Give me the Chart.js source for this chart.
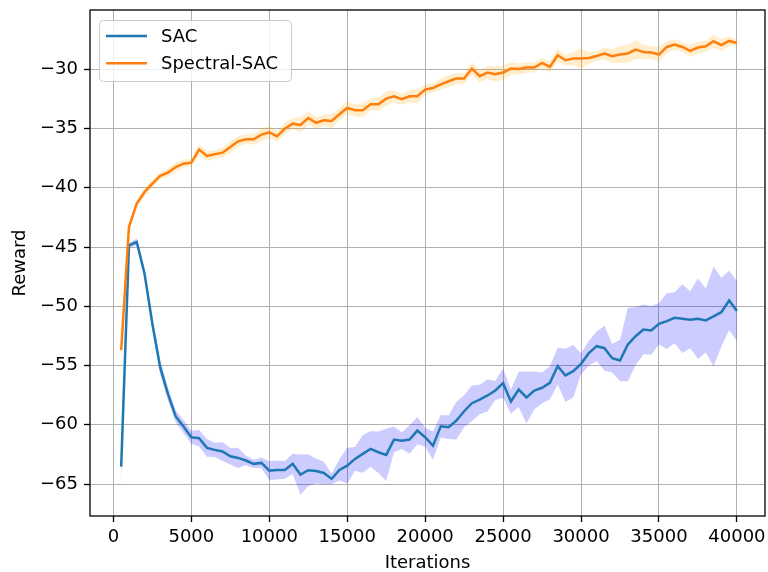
<!DOCTYPE html>
<html>
<head>
<meta charset="utf-8">
<script src="https://cdn.jsdelivr.net/npm/chart.js@4.4.0/dist/chart.umd.min.js"></script>
<style>
  html, body { margin: 0; padding: 0; background: #fff; }
  #wrap { width: 768px; height: 572px; }
</style>
</head>
<body>
<div id="wrap"><canvas id="chart" width="768" height="572"></canvas></div>
<script>
// values
const ITERATIONS = [
  500, 1000, 1500, 2000, 2500, 3000, 3500, 4000, 4500, 5000,
  5500, 6000, 6500, 7000, 7500, 8000, 8500, 9000, 9500, 10000,
  10500, 11000, 11500, 12000, 12500, 13000, 13500, 14000, 14500, 15000,
  15500, 16000, 16500, 17000, 17500, 18000, 18500, 19000, 19500, 20000,
  20500, 21000, 21500, 22000, 22500, 23000, 23500, 24000, 24500, 25000,
  25500, 26000, 26500, 27000, 27500, 28000, 28500, 29000, 29500, 30000,
  30500, 31000, 31500, 32000, 32500, 33000, 33500, 34000, 34500, 35000,
  35500, 36000, 36500, 37000, 37500, 38000, 38500, 39000, 39500, 40000
];
const SAC_MEAN = [
  -63.53, -44.86, -44.58, -47.26, -51.48, -55.14, -57.40, -59.30, -60.15, -61.06,
  -61.14, -61.95, -62.12, -62.26, -62.66, -62.80, -63.02, -63.30, -63.22, -63.87,
  -63.81, -63.81, -63.30, -64.20, -63.84, -63.90, -64.07, -64.57, -63.81, -63.45,
  -62.88, -62.46, -62.04, -62.32, -62.54, -61.25, -61.34, -61.25, -60.49, -61.05,
  -61.76, -60.13, -60.21, -59.65, -58.86, -58.18, -57.87, -57.53, -57.11, -56.49,
  -58.04, -57.03, -57.70, -57.11, -56.88, -56.46, -55.05, -55.84, -55.48, -54.86,
  -53.96, -53.37, -53.54, -54.38, -54.58, -53.23, -52.53, -51.96, -52.04, -51.48,
  -51.25, -50.97, -51.05, -51.14, -51.05, -51.20, -50.86, -50.50, -49.51, -50.41
];
const SAC_STD = [
  1.60, 0.20, 0.30, 0.40, 0.50, 0.60, 0.55, 0.50, 0.55, 0.55,
  0.70, 0.75, 0.60, 0.80, 0.70, 0.85, 0.40, 0.35, 0.45, 0.80,
  0.80, 0.75, 0.85, 1.70, 1.35, 1.05, 0.95, 0.45, 0.90, 1.50,
  1.00, 1.60, 1.50, 1.75, 2.20, 1.10, 0.70, 1.20, 1.15, 0.80,
  1.20, 0.95, 1.00, 1.60, 1.35, 1.50, 1.25, 1.35, 0.80, 1.25,
  1.00, 1.50, 2.20, 1.60, 1.30, 1.40, 1.55, 2.25, 2.20, 0.90,
  1.05, 1.25, 1.90, 1.20, 1.75, 3.10, 2.45, 2.10, 2.05, 1.75,
  2.35, 2.15, 2.90, 2.40, 3.40, 2.70, 4.20, 2.90, 2.50, 2.55
];
const SPEC_MEAN = [
  -53.70, -43.30, -41.34, -40.36, -39.65, -39.00, -38.73, -38.25, -37.97, -37.88,
  -36.78, -37.32, -37.18, -37.04, -36.56, -36.08, -35.91, -35.91, -35.52, -35.32,
  -35.66, -35.01, -34.59, -34.70, -34.11, -34.52, -34.31, -34.37, -33.80, -33.27,
  -33.46, -33.46, -32.96, -32.96, -32.48, -32.28, -32.53, -32.28, -32.28, -31.72,
  -31.58, -31.27, -31.01, -30.79, -30.79, -29.94, -30.59, -30.28, -30.42, -30.28,
  -29.94, -29.97, -29.86, -29.86, -29.47, -29.80, -28.82, -29.24, -29.10, -29.10,
  -29.05, -28.88, -28.67, -28.90, -28.76, -28.67, -28.34, -28.54, -28.59, -28.76,
  -28.12, -27.91, -28.12, -28.45, -28.17, -28.06, -27.64, -27.97, -27.61, -27.78
];
const SPEC_STD = [
  1.30, 0.30, 0.30, 0.35, 0.35, 0.30, 0.35, 0.40, 0.35, 0.30,
  0.45, 0.40, 0.35, 0.40, 0.50, 0.45, 0.40, 0.45, 0.55, 0.50,
  0.45, 0.50, 0.45, 0.65, 0.55, 0.50, 0.45, 0.60, 0.50, 0.55,
  0.50, 0.60, 0.50, 0.55, 0.60, 0.50, 0.45, 0.50, 0.60, 0.45,
  0.40, 0.45, 0.50, 0.50, 0.45, 0.55, 0.50, 0.55, 0.65, 0.60,
  0.55, 0.45, 0.45, 0.40, 0.45, 0.45, 0.55, 0.45, 0.55, 0.85,
  0.50, 0.40, 0.50, 0.60, 0.70, 0.75, 0.80, 0.60, 0.55, 0.65,
  0.50, 0.45, 0.40, 0.50, 0.50, 0.45, 0.55, 0.50, 0.40, 0.30
];
const X_TICKS = [0, 5000, 10000, 15000, 20000, 25000, 30000, 35000, 40000];
const Y_TICKS = [-65, -60, -55, -50, -45, -40, -35, -30];

const FONT = "'DejaVu Sans', 'Liberation Sans', sans-serif";

function toPoints(ys) { return ITERATIONS.map((x, i) => ({ x, y: ys[i] })); }
function bandEdge(mean, std, sign) {
  return ITERATIONS.map((x, i) => ({ x, y: mean[i] + sign * std[i] }));
}
function minusSign(v) { return String(v).replace("-", "\u2212"); }
function noPad(s) { s.paddingLeft = s.paddingRight = s.paddingTop = s.paddingBottom = 0; }

function line(label, ys, color, order) {
  return {
    label, data: toPoints(ys), borderColor: color, backgroundColor: color,
    borderWidth: 2.5, pointRadius: 0, fill: false, tension: 0, order, inLegend: true
  };
}
function edge(data, fill, bg) {
  return {
    data, borderWidth: 0, borderColor: "rgba(0,0,0,0)", backgroundColor: bg,
    pointRadius: 0, fill, tension: 0, order: 5
  };
}

// black box round the plot area
const frame = {
  id: "frame",
  afterDatasetsDraw(chart) {
    const { ctx, chartArea: a } = chart;
    ctx.save();
    ctx.strokeStyle = "#000";
    ctx.lineWidth = 1.3;
    ctx.strokeRect(a.left, a.top, a.right - a.left, a.bottom - a.top);
    ctx.restore();
  }
};

// matplotlib style legend in the upper left corner
const boxLegend = {
  id: "boxLegend",
  afterDraw(chart) {
    const ctx = chart.ctx;
    const items = chart.data.datasets.filter(d => d.inLegend);
    const x0 = 99.5, y0 = 20.5, w = 192, h = 61, r = 4;
    ctx.save();
    ctx.beginPath();
    ctx.moveTo(x0 + r, y0);
    ctx.arcTo(x0 + w, y0, x0 + w, y0 + h, r);
    ctx.arcTo(x0 + w, y0 + h, x0, y0 + h, r);
    ctx.arcTo(x0, y0 + h, x0, y0, r);
    ctx.arcTo(x0, y0, x0 + w, y0, r);
    ctx.closePath();
    ctx.fillStyle = "rgba(255,255,255,0.8)";
    ctx.fill();
    ctx.strokeStyle = "#cccccc";
    ctx.lineWidth = 1;
    ctx.stroke();
    ctx.font = "18px " + FONT;
    ctx.textBaseline = "middle";
    ctx.fillStyle = "#000";
    items.forEach((d, i) => {
      const y = 36 + i * 27.3;
      ctx.strokeStyle = d.borderColor;
      ctx.lineWidth = 2.5;
      ctx.beginPath();
      ctx.moveTo(106, y);
      ctx.lineTo(147, y);
      ctx.stroke();
      ctx.fillText(d.label, 161, y + 1);
    });
    ctx.restore();
  }
};

Chart.defaults.font.family = FONT;
Chart.defaults.font.size = 18;
Chart.defaults.color = "#000";

new Chart(document.getElementById("chart"), {
  type: "line",
  data: {
    datasets: [
      line("SAC", SAC_MEAN, "#1f77b4", 1),
      edge(bandEdge(SAC_MEAN, SAC_STD, -1), false, "rgba(0,0,255,0.2)"),
      edge(bandEdge(SAC_MEAN, SAC_STD, 1), "-1", "rgba(0,0,255,0.2)"),
      line("Spectral-SAC", SPEC_MEAN, "#ff7f0e", 0),
      edge(bandEdge(SPEC_MEAN, SPEC_STD, -1), false, "rgba(255,165,0,0.2)"),
      edge(bandEdge(SPEC_MEAN, SPEC_STD, 1), "-1", "rgba(255,165,0,0.2)")
    ]
  },
  options: {
    responsive: false,
    animation: false,
    devicePixelRatio: 1,
    layout: { padding: { top: 10, right: 3, left: 0, bottom: 0 } },
    plugins: { legend: { display: false }, tooltip: { enabled: false } },
    scales: {
      x: {
        type: "linear",
        min: -1500, max: 41800,
        afterFit(s) { s.height = 56; noPad(s); },
        afterBuildTicks(s) { s.ticks = X_TICKS.map(v => ({ value: v })); },
        grid: { color: "#b0b0b0", lineWidth: 1, tickColor: "#000", tickLength: 6, tickWidth: 1.3 },
        border: { display: false },
        ticks: { padding: 5, maxRotation: 0, autoSkip: false, callback: v => minusSign(v) },
        title: { display: true, text: "Iterations", font: { size: 18, lineHeight: 1 }, padding: { top: 0, bottom: 0 } }
      },
      y: {
        type: "linear",
        min: -67.7, max: -25.0,
        afterFit(s) { s.width = 90; noPad(s); },
        afterBuildTicks(s) { s.ticks = Y_TICKS.map(v => ({ value: v })); },
        grid: { color: "#b0b0b0", lineWidth: 1, tickColor: "#000", tickLength: 6, tickWidth: 1.3 },
        border: { display: false },
        ticks: { padding: 6, autoSkip: false, callback: v => minusSign(v) },
        title: { display: true, text: "Reward", font: { size: 18, lineHeight: 1 }, padding: { top: 11, bottom: 0 } }
      }
    }
  },
  plugins: [frame, boxLegend]
});
</script>
</body>
</html>
